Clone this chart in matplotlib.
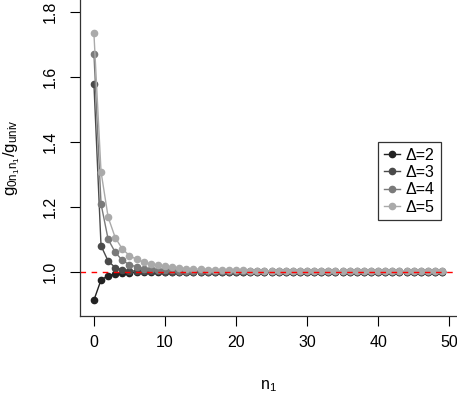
import matplotlib
matplotlib.use("Agg")
import matplotlib.pyplot as plt
import numpy as np

plt.rcParams['font.family'] = ['Liberation Sans', 'DejaVu Sans']
plt.rcParams['mathtext.fontset'] = 'custom'
plt.rcParams['mathtext.rm'] = 'Liberation Sans'
plt.rcParams['mathtext.default'] = 'regular'

n1 = list(range(50))

delta2 = [0.913, 0.975, 0.988, 0.994, 0.996, 0.997, 0.998, 0.9985, 0.999, 0.999] + [0.9995] * 10 + [1.0] * 30
delta3 = [1.578, 1.080, 1.033, 1.013, 1.006, 1.003, 1.002, 1.0015, 1.001, 1.001] + [1.0008] * 5 + [1.0005] * 5 + [1.0003] * 30
delta4 = [1.670, 1.209, 1.100, 1.060, 1.035, 1.022, 1.015, 1.010, 1.008, 1.006,
          1.005, 1.004, 1.0035, 1.003, 1.0027, 1.0024, 1.0021, 1.0019, 1.0017, 1.0015] + [1.0012] * 10 + [1.001] * 20
delta5 = [1.733, 1.308, 1.168, 1.105, 1.070, 1.050, 1.038, 1.030, 1.024, 1.020,
          1.017, 1.014, 1.012, 1.010, 1.009, 1.008, 1.007, 1.006, 1.0055, 1.005,
          1.0045, 1.004, 1.0037, 1.0034, 1.003, 1.0028, 1.0026, 1.0024, 1.0022, 1.0021,
          1.002, 1.0019, 1.0018, 1.0017, 1.0016, 1.0015, 1.0015, 1.0014, 1.0014, 1.0013,
          1.0013, 1.0012, 1.0012, 1.0011, 1.0011, 1.0011, 1.001, 1.001, 1.001, 1.001]

series = [delta2, delta3, delta4, delta5]
labels = ['Δ=2', 'Δ=3', 'Δ=4', 'Δ=5']
colors = ['#222222', '#4a4a4a', '#7a7a7a', '#aaaaaa']

fig = plt.figure(figsize=(4.57, 3.96), dpi=100)
ax = fig.add_axes([80/457, 1 - 316/396, 376/457, 316/396])

for ys, lab, c in zip(series, labels, colors):
    ax.plot(n1, ys, '-o', color=c, lw=1, ms=4.5, mec=c, label=lab)

ax.axhline(1.0, color='red', lw=1, ls=(0, (4, 4)))

ax.set_xlim(-1.96, 50.96)
ax.set_ylim(0.864, 1.836)
ax.set_xticks([0, 10, 20, 30, 40, 50])
ax.set_yticks([1.0, 1.2, 1.4, 1.6, 1.8])
ax.set_yticklabels(['1.0', '1.2', '1.4', '1.6', '1.8'], rotation=90, va='center')
ax.tick_params(direction='out', length=7, width=0.8, labelsize=11.5)
ax.tick_params(axis='x', pad=7)
ax.tick_params(axis='y', pad=9)
for s in ['top', 'right']:
    ax.spines[s].set_visible(False)
for s in ['left', 'bottom']:
    ax.spines[s].set_linewidth(0.9)
    ax.spines[s].set_color('#333333')

ax.set_xlabel('$n_1$', fontsize=11.5, labelpad=20)
ax.set_ylabel('$g_{0n_1n_1}/g_{univ}$', fontsize=12, labelpad=15)

leg = ax.legend(loc='upper left', bbox_to_anchor=((378-80)/376, 1 - 142/316),
                frameon=True, fancybox=False, edgecolor='black', fontsize=11.5,
                handlelength=1.0, handletextpad=0.4, borderpad=0.35, labelspacing=0.15,
                borderaxespad=0)
leg.get_frame().set_linewidth(0.9)

fig.savefig('out.png', dpi=100)
